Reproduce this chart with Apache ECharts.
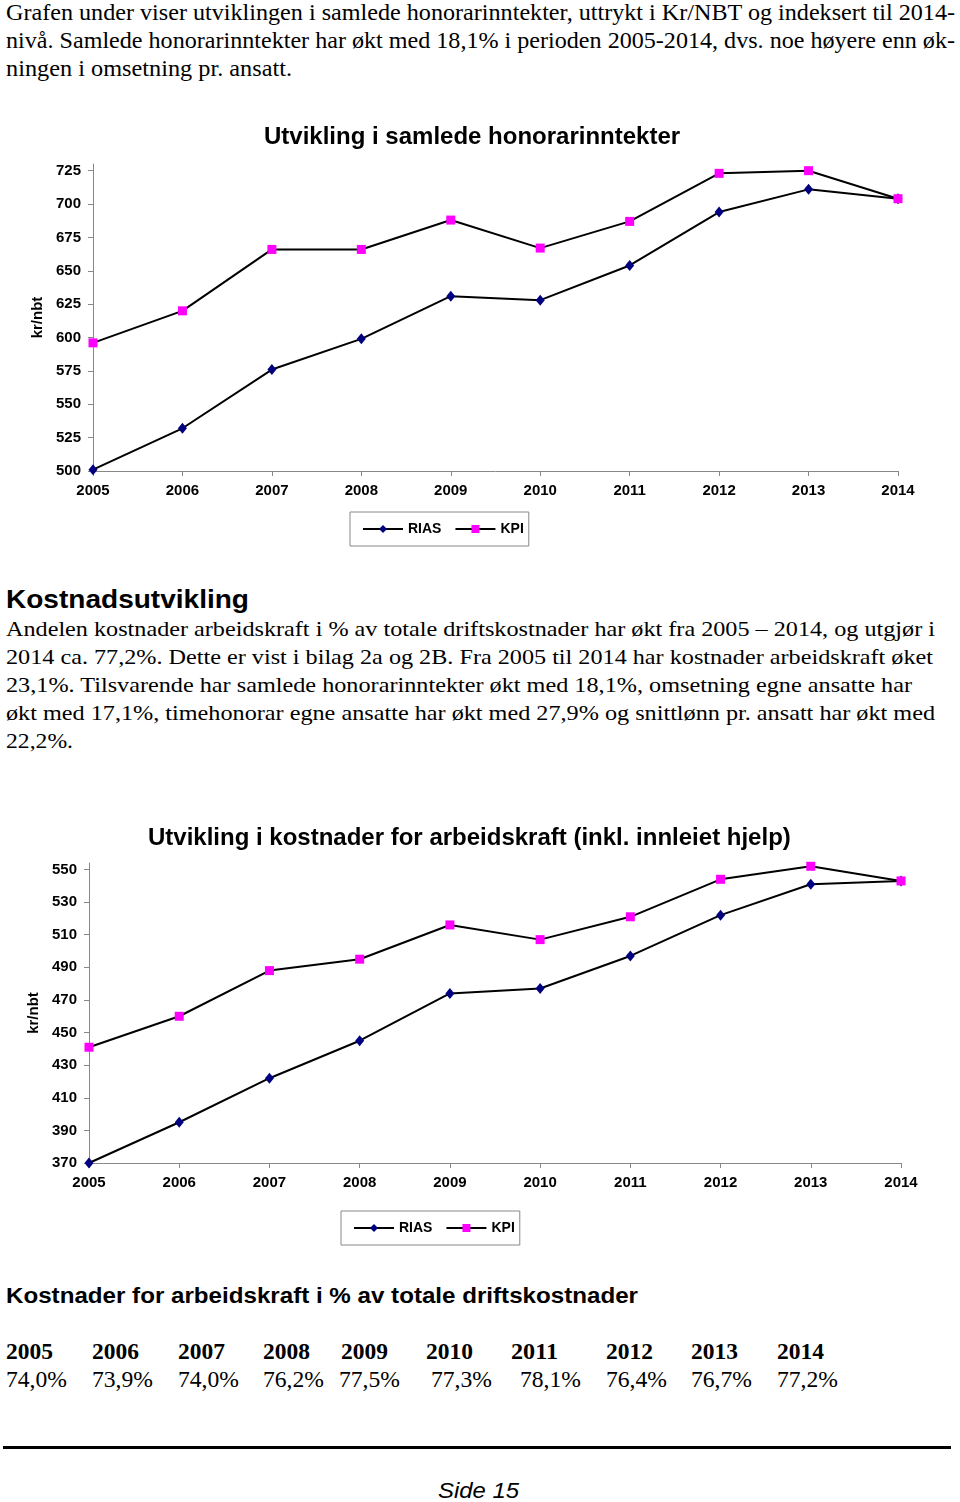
<!DOCTYPE html>
<html><head><meta charset="utf-8">
<script src="https://cdn.jsdelivr.net/npm/echarts@6/dist/echarts.min.js"></script>
<style>
html,body{margin:0;padding:0;background:#fff;}
body{width:960px;height:1502px;position:relative;overflow:hidden;}
.t{position:absolute;white-space:nowrap;transform-origin:0 50%;color:#000;}
.serif{font-family:"Liberation Serif","Times New Roman",serif;}
.sans{font-family:"Liberation Sans",Arial,sans-serif;}
.chart{position:absolute;left:0;width:960px;height:450px;}
#rule{position:absolute;left:3px;top:1446px;width:948px;height:3px;background:#000;}
</style>
</head><body>
<div class="t serif" data-w="949" style="left:6px;top:-1px;font-size:23px;line-height:28px;">Grafen under viser utviklingen i samlede honorarinntekter, uttrykt i Kr/NBT og indeksert til 2014-</div>
<div class="t serif" data-w="949" style="left:6px;top:27px;font-size:23px;line-height:28px;">nivå. Samlede honorarinntekter har økt med 18,1% i perioden 2005-2014, dvs. noe høyere enn øk-</div>
<div class="t serif" data-w="286" style="left:6px;top:55px;font-size:23px;line-height:28px;">ningen i omsetning pr. ansatt.</div>

<div id="c1" class="chart" style="top:110px;"></div>

<div class="t sans" data-w="243" style="left:6px;top:584px;font-size:26px;line-height:30px;font-weight:bold;">Kostnadsutvikling</div>
<div class="t serif" data-w="929" style="left:6px;top:615px;font-size:22px;line-height:28px;">Andelen kostnader arbeidskraft i % av totale driftskostnader har økt fra 2005 – 2014, og utgjør i</div>
<div class="t serif" data-w="927" style="left:6px;top:643px;font-size:22px;line-height:28px;">2014 ca. 77,2%. Dette er vist i bilag 2a og 2B. Fra 2005 til 2014 har kostnader arbeidskraft øket</div>
<div class="t serif" data-w="906" style="left:6px;top:671px;font-size:22px;line-height:28px;">23,1%. Tilsvarende har samlede honorarinntekter økt med 18,1%, omsetning egne ansatte har</div>
<div class="t serif" data-w="929" style="left:6px;top:699px;font-size:22px;line-height:28px;">økt med 17,1%, timehonorar egne ansatte har økt med 27,9% og snittlønn pr. ansatt har økt med</div>
<div class="t serif" data-w="67" style="left:6px;top:727px;font-size:22px;line-height:28px;">22,2%.</div>

<div id="c2" class="chart" style="top:810px;"></div>

<div class="t sans" data-w="632" style="left:6px;top:1282px;font-size:22px;line-height:28px;font-weight:bold;">Kostnader for arbeidskraft i % av totale driftskostnader</div>
<div id="tbl"></div>
<div id="rule"></div>
<div class="t sans" data-w="81" style="left:438px;top:1477px;font-size:22px;line-height:28px;font-style:italic;">Side 15</div>

<script>
// ---- data ----
const years = ['2005','2006','2007','2008','2009','2010','2011','2012','2013','2014'];
const rias1 = [501, 532, 576, 599, 631, 628, 654, 694, 711, 704];
const kpi1  = [596, 620, 666, 666, 688, 667, 687, 723, 725, 704];
const yTicks1 = [500, 525, 550, 575, 600, 625, 650, 675, 700, 725];
const rias2 = [370, 395, 422, 445, 474, 477, 497, 522, 541, 543];
const kpi2  = [441, 460, 488, 495, 516, 507, 521, 544, 552, 543];
const yTicks2 = [370, 390, 410, 430, 450, 470, 490, 510, 530, 550];
const pctYears = ['2005','2006','2007','2008','2009','2010','2011','2012','2013','2014'];
const pctValues = ['74,0%','73,9%','74,0%','76,2%','77,5%','77,3%','78,1%','76,4%','76,7%','77,2%'];

// ---- table layout ----
const yearX = [6, 92, 178, 263, 341, 426, 511, 606, 691, 777];
const valX  = [6, 92, 178, 263, 339, 431, 520, 606, 691, 777];
const tbl = document.getElementById('tbl');
pctYears.forEach((y, i) => {
  const a = document.createElement('div');
  a.className = 't serif';
  a.style.cssText = `left:${yearX[i]}px;top:1338px;font-size:23px;line-height:28px;font-weight:bold;`;
  a.dataset.w = 47;
  a.textContent = y;
  tbl.appendChild(a);
  const b = document.createElement('div');
  b.className = 't serif';
  b.style.cssText = `left:${valX[i]}px;top:1366px;font-size:23px;line-height:28px;`;
  b.dataset.w = 61;
  b.textContent = pctValues[i];
  tbl.appendChild(b);
});

document.querySelectorAll('[data-w]').forEach(el => {
  const w = el.getBoundingClientRect().width;
  el.style.transform = 'scaleX(' + (+el.dataset.w / w) + ')';
});

const FONT = '"Liberation Sans", Arial, sans-serif';
function makeOption(cfg) {
  return {
    animation: false,
    title: {
      text: cfg.title, left: cfg.titleLeft, top: cfg.titleTop, padding: 0,
      textStyle: {fontFamily: FONT, fontSize: 24, fontWeight: 'bold', color: '#000'}
    },
    grid: {left: cfg.gridLeft, top: cfg.gridTop, width: cfg.gridW, height: cfg.gridH},
    xAxis: {
      type: 'category', data: years, boundaryGap: false,
      axisLine: {lineStyle: {color: '#888', width: 1}},
      axisTick: {show: true, alignWithLabel: true, length: 5, lineStyle: {color: '#888'}},
      axisLabel: {interval: 0, margin: 12, color: '#000', fontFamily: FONT, fontSize: 15, fontWeight: 'bold'},
      splitLine: {show: false}
    },
    yAxis: {
      type: 'value', min: cfg.ymin, max: cfg.ymax,
      name: 'kr/nbt', nameLocation: 'middle', nameRotate: 90, nameGap: cfg.nameGap,
      nameTextStyle: {fontFamily: FONT, fontSize: 15, fontWeight: 'bold', color: '#000'},
      axisLine: {show: true, lineStyle: {color: '#888', width: 1}},
      axisTick: {show: true, length: 5, customValues: cfg.ticks, lineStyle: {color: '#888'}},
      axisLabel: {customValues: cfg.ticks, margin: 12, color: '#000', fontFamily: FONT, fontSize: 15, fontWeight: 'bold'},
      splitLine: {show: false}
    },
    legend: {
      data: ['RIAS', 'KPI'], left: cfg.legendLeft, top: cfg.legendTop,
      borderColor: '#888', borderWidth: 1, padding: [10, 5, 10, 12],
      itemWidth: 40, itemHeight: 10, itemGap: 13,
      textStyle: {fontFamily: FONT, fontSize: 14, fontWeight: 'bold', color: '#000'}
    },
    series: [
      {name: 'RIAS', type: 'line', data: cfg.rias, clip: false,
       symbol: 'diamond', symbolSize: [9, 11],
       itemStyle: {color: '#000080'}, lineStyle: {color: '#000', width: 2}},
      {name: 'KPI', type: 'line', data: cfg.kpi, clip: false,
       symbol: 'rect', symbolSize: 9,
       itemStyle: {color: '#ff00ff'}, lineStyle: {color: '#000', width: 2}}
    ]
  };
}

echarts.init(document.getElementById('c1')).setOption(makeOption({
  title: 'Utvikling i samlede honorarinntekter', titleLeft: 264, titleTop: 15,
  gridLeft: 93, gridTop: 54, gridW: 805, gridH: 307,
  ymin: 500, ymax: 730, ticks: yTicks1, nameGap: 48,
  rias: rias1, kpi: kpi1, legendLeft: 350, legendTop: 402
}));
echarts.init(document.getElementById('c2')).setOption(makeOption({
  title: 'Utvikling i kostnader for arbeidskraft (inkl. innleiet hjelp)', titleLeft: 148, titleTop: 16,
  gridLeft: 89, gridTop: 53, gridW: 812, gridH: 300,
  ymin: 370, ymax: 554, ticks: yTicks2, nameGap: 43,
  rias: rias2, kpi: kpi2, legendLeft: 341, legendTop: 401
}));
</script>
</body></html>
